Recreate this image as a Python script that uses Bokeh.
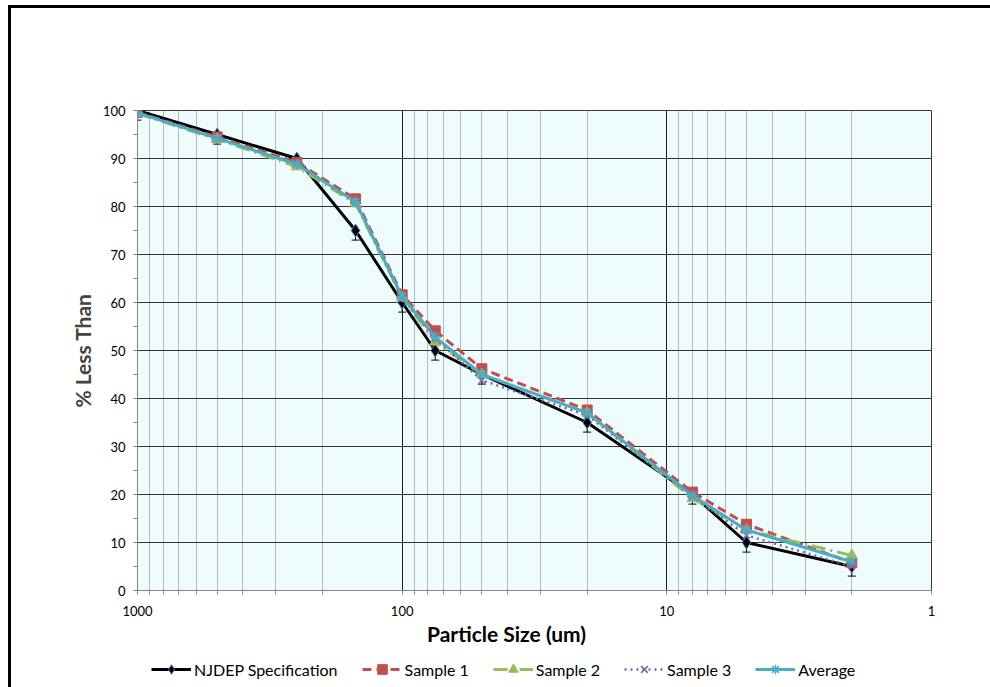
from bokeh.plotting import figure
from bokeh.layouts import column, row
from bokeh.models import (Range1d, FixedTicker, NumeralTickFormatter, Legend, LegendItem,
                          Whisker, ColumnDataSource, TeeHead, Label, Div, Spacer)
from bokeh.embed import file_html
from bokeh.resources import INLINE

# ---------------- data ----------------
sizes = [1000, 500, 250, 150, 100, 75, 50, 20, 8, 5, 2]
njdep = [100, 95, 90, 75, 60, 50, 45, 35, 20, 10, 5]
njdep_err = [2, 2, 2, 2, 2, 2, 2, 2, 2, 2, 2]
sample1 = [99.6, 94.5, 89.2, 81.6, 61.6, 54.1, 46.2, 37.6, 20.5, 13.8, 5.8]
sample2 = [99.4, 94.0, 88.3, 80.6, 61.0, 51.8, 45.0, 37.0, 19.2, 12.6, 7.3]
sample3 = [99.5, 94.2, 89.0, 80.8, 61.0, 52.5, 43.8, 36.5, 19.6, 11.5, 5.0]
average = [99.5, 94.2, 88.8, 81.0, 61.2, 52.8, 45.0, 37.0, 19.8, 12.6, 6.0]

x_major = [1, 10, 100, 1000]
x_minor = [m * d for d in (1, 10, 100) for m in range(2, 10)]
y_major = [0, 10, 20, 30, 40, 50, 60, 70, 80, 90, 100]
y_minor = [5, 15, 25, 35, 45, 55, 65, 75, 85, 95]

series_styles = [
    dict(name="NJDEP Specification", data=njdep, color="black", width=3, dash="solid",
         marker="diamond", msize=13, mfill="black", mline="#4F81BD", mwidth=1),
    dict(name="Sample 1", data=sample1, color="#C0504D", width=3, dash="9 5",
         marker="square", msize=10, mfill="#C0504D", mline="#C0504D", mwidth=1),
    dict(name="Sample 2", data=sample2, color="#9BBB59", width=3, dash="14 5 2 5",
         marker="triangle", msize=11, mfill="#9BBB59", mline="#9BBB59", mwidth=1),
    dict(name="Sample 3", data=sample3, color="#8064A2", width=2.5, dash="2 4",
         marker="x", msize=9, mfill=None, mline="#8064A2", mwidth=1.5),
    dict(name="Average", data=average, color="#4BACC6", width=3, dash="solid",
         marker="asterisk", msize=11, mfill=None, mline="#4BACC6", mwidth=1.5),
]

FONT = "Lato"

# ---------------- main plot ----------------
p = figure(width=979, height=612, x_axis_type="log",
           x_range=Range1d(1000, 1), y_range=Range1d(0, 100),
           output_backend="svg", toolbar_location=None,
           min_border_left=126, min_border_right=59, min_border_top=102, min_border_bottom=30,
           background_fill_color="#EFFCFE", border_fill_color="white", margin=0)
p.outline_line_color = "#3a3a3a"
p.outline_line_width = 1

p.xgrid.ticker = FixedTicker(ticks=x_major, minor_ticks=x_minor)
p.xgrid.grid_line_color = "#1a1a1a"
p.xgrid.grid_line_width = 1
p.xgrid.minor_grid_line_color = "#b8b8b8"
p.xgrid.minor_grid_line_width = 1
p.ygrid.ticker = FixedTicker(ticks=y_major, minor_ticks=y_minor)
p.ygrid.grid_line_color = "#333333"
p.ygrid.grid_line_width = 1

p.xaxis.ticker = FixedTicker(ticks=x_major, minor_ticks=x_minor)
p.xaxis.formatter = NumeralTickFormatter(format="0")
p.yaxis.ticker = FixedTicker(ticks=y_major, minor_ticks=y_minor)
for ax in (p.xaxis, p.yaxis):
    ax.axis_line_color = "#868686"
    ax.major_tick_line_color = "#868686"
    ax.minor_tick_line_color = "#868686"
    ax.major_tick_out = 4
    ax.major_tick_in = 0
    ax.minor_tick_out = 4
    ax.minor_tick_in = 0
    ax.major_label_text_font = FONT
    ax.major_label_text_font_size = "13px"
    ax.major_label_text_color = "black"
p.xaxis.major_label_standoff = 11
p.yaxis.major_label_standoff = 8
p.yaxis.axis_label = "% Less Than"
p.yaxis.axis_label_text_font = FONT
p.yaxis.axis_label_text_font_style = "bold"
p.yaxis.axis_label_text_font_size = "21px"
p.yaxis.axis_label_standoff = 5

# error bars (minus direction) for the specification
src = ColumnDataSource(dict(x=sizes, y=njdep,
                            lo=[v - e for v, e in zip(njdep, njdep_err)]))
p.add_layout(Whisker(base="x", lower="lo", upper="y", source=src, dimension="height",
                     line_color="black", line_width=1, level="underlay",
                     lower_head=TeeHead(size=8, line_color="black", line_width=1),
                     upper_head=None))

for s in series_styles:
    p.line(sizes, s["data"], line_color=s["color"], line_width=s["width"], line_dash=s["dash"])
    p.scatter(sizes, s["data"], marker=s["marker"], size=s["msize"],
              fill_color=s["mfill"], line_color=s["mline"], line_width=s["mwidth"])

# ---------------- axis title + legend strip ----------------
# the column aligns this strip's frame with the main frame (pixels 126..920 here)
p2 = figure(width=979, height=66, x_range=Range1d(126, 920), y_range=Range1d(66, 0),
            x_axis_location=None, y_axis_location=None,
            output_backend="svg", toolbar_location=None, min_border=0,
            background_fill_color="white", border_fill_color="white", margin=0)
p2.outline_line_color = None
p2.grid.visible = False
p2.extra_x_ranges = {"hidden": Range1d(5000, 6000)}

p2.add_layout(Label(x=495, y=13, text="Particle Size (um)", text_align="center",
                    text_baseline="middle", text_font=FONT, text_font_style="bold",
                    text_font_size="21px", text_color="black"))

items = []
for s in series_styles:
    # same series, mapped onto a range outside this strip's view: only the legend shows
    lr = p2.line(sizes, s["data"], x_range_name="hidden", line_color=s["color"],
                 line_width=s["width"], line_dash=s["dash"])
    mr = p2.scatter(sizes, s["data"], x_range_name="hidden", marker=s["marker"],
                    size=s["msize"] - 1, fill_color=s["mfill"], line_color=s["mline"],
                    line_width=s["mwidth"])
    items.append(LegendItem(label=s["name"], renderers=[lr, mr]))

legend = Legend(items=items, orientation="horizontal", location=(14, 5),
                glyph_width=40, glyph_height=24, label_standoff=3, spacing=24,
                padding=4, margin=0, border_line_color=None,
                background_fill_alpha=0, label_text_font=FONT,
                label_text_font_size="16px", label_text_color="black")
p2.add_layout(legend, "center")

# ---------------- page: outer chart border (left and top edges) ----------------
left_edge = Div(text="", width=3, height=682, margin=0, styles={"background-color": "black"})
top_edge = Div(text="", width=979, height=3, margin=0, styles={"background-color": "black"})
layout = column(
    Spacer(width=990, height=5, margin=0),
    row(Spacer(width=8, height=682, margin=0), left_edge,
        column(top_edge, p, p2, spacing=0, margin=0), spacing=0, margin=0),
    spacing=0, margin=0)

open("out.html", "w").write(file_html(layout, INLINE))
